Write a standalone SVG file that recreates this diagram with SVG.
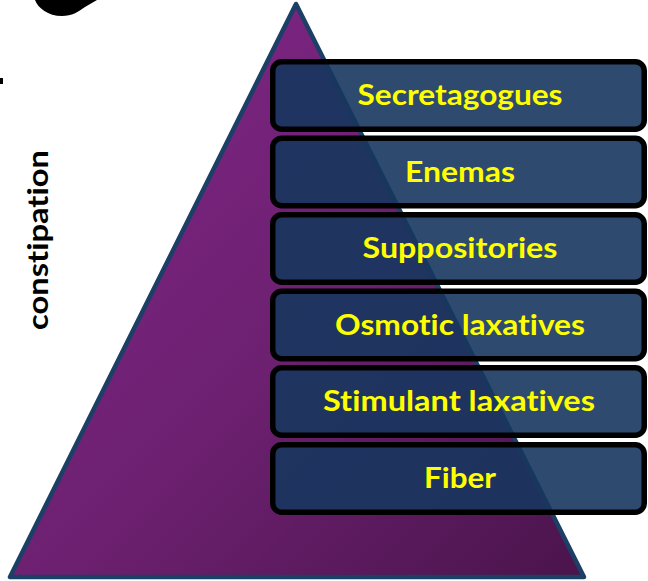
<svg xmlns="http://www.w3.org/2000/svg" width="648" height="581" viewBox="0 0 648 581">
  <defs>
    <linearGradient id="pyramidFill" x1="0" y1="0" x2="1" y2="1">
      <stop offset="0" stop-color="#83278b"/>
      <stop offset="0.55" stop-color="#6c206f"/>
      <stop offset="1" stop-color="#4a144c"/>
    </linearGradient>
  </defs>
  <style>
    text { font-variant-ligatures: none; font-feature-settings: "liga" 0, "clig" 0; }
    .tier rect { fill: rgb(23,54,94); fill-opacity: 0.9; stroke: #000; stroke-width: 5.5; }
    .tier text { font-family: Lato, "Open Sans", "Liberation Sans", sans-serif; font-weight: 700; font-size: 29px; fill: #ffff00; text-anchor: middle; }
    .side { font-family: Lato, "Open Sans", "Liberation Sans", sans-serif; font-weight: 700; font-size: 28px; fill: #000; text-anchor: middle; }
  </style>

  <!-- background -->
  <rect width="648" height="581" fill="#fff"/>

  <!-- partial black shape at the top edge and small tick at the left edge -->
  <path d="M35,0 C38,8 48,16 62,16 C72,16 78,12 85,7 L97,0 Z" fill="#000"/>
  <rect x="0" y="78" width="3" height="6" fill="#000"/>

  <!-- side label -->
  <text class="side" transform="translate(48,240) rotate(-90)" textLength="180" lengthAdjust="spacingAndGlyphs">constipation</text>

  <!-- pyramid -->
  <g id="pyramid">
    <polygon points="296,4 10,577 584,577" fill="url(#pyramidFill)" stroke="#1c3f66" stroke-width="4.5" stroke-linejoin="round"/>
  </g>

  <!-- tiers, top to bottom -->
  <g id="tier-secretagogues" class="tier">
    <rect x="272.75" y="61.75" width="371.5" height="67.5" rx="9"/>
    <text x="460" y="105" textLength="205" lengthAdjust="spacingAndGlyphs">Secretagogues</text>
  </g>
  <g id="tier-enemas" class="tier">
    <rect x="272.75" y="138.25" width="371.5" height="67.5" rx="9"/>
    <text x="460" y="181.5" textLength="110" lengthAdjust="spacingAndGlyphs">Enemas</text>
  </g>
  <g id="tier-suppositories" class="tier">
    <rect x="272.75" y="214.75" width="371.5" height="67.5" rx="9"/>
    <text x="460" y="258" textLength="195" lengthAdjust="spacingAndGlyphs">Suppositories</text>
  </g>
  <g id="tier-osmotic" class="tier">
    <rect x="272.75" y="291.25" width="371.5" height="67.5" rx="9"/>
    <text x="460" y="334.5" textLength="250" lengthAdjust="spacingAndGlyphs">Osmotic laxatives</text>
  </g>
  <g id="tier-stimulant" class="tier">
    <rect x="272.75" y="367.75" width="371.5" height="67.5" rx="9"/>
    <text x="459" y="411" textLength="272" lengthAdjust="spacingAndGlyphs">Stimulant laxatives</text>
  </g>
  <g id="tier-fiber" class="tier">
    <rect x="272.75" y="444.75" width="371.5" height="67.5" rx="9"/>
    <text x="460" y="488" textLength="72" lengthAdjust="spacingAndGlyphs">Fiber</text>
  </g>

  <!-- connectors: none in this figure -->
  <g id="connectors"/>
</svg>
